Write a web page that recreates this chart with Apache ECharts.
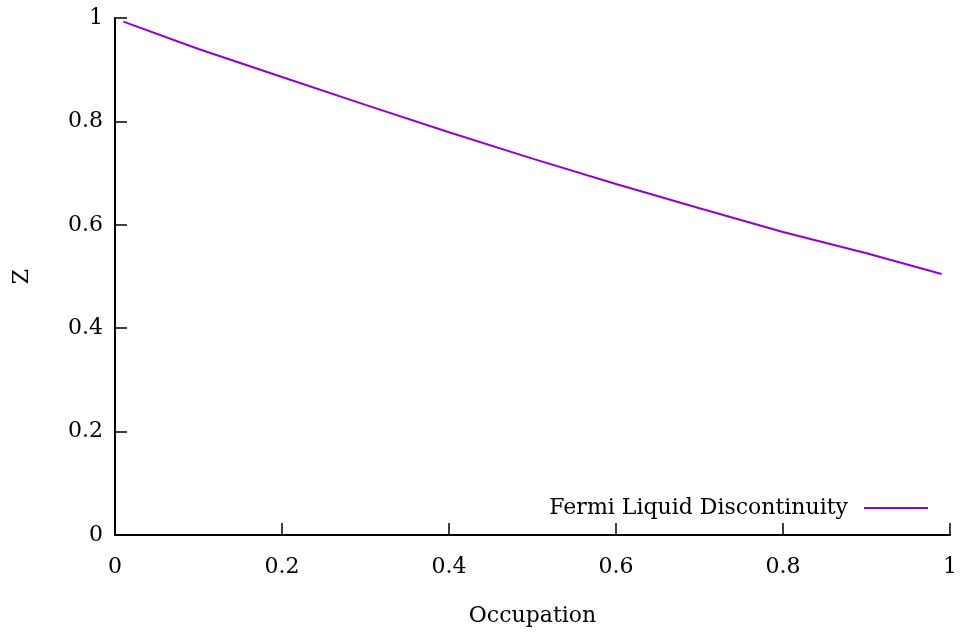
<!DOCTYPE html>
<html>
<head>
<meta charset="utf-8">
<script src="https://cdn.jsdelivr.net/npm/echarts@6/dist/echarts.min.js"></script>
<style>
  html, body { margin: 0; padding: 0; background: #fff; }
  #chart { width: 960px; height: 632px; }
</style>
</head>
<body>
<div id="chart"></div>
<script>
// Quasiparticle weight Z against occupation
const occupation = [0.01, 0.1, 0.2, 0.3, 0.4, 0.5, 0.6, 0.7, 0.8, 0.9, 0.99];
const zWeight    = [0.993, 0.940, 0.886, 0.832, 0.779, 0.728, 0.679, 0.632, 0.586, 0.545, 0.505];
const seriesName = 'Fermi Liquid Discontinuity';
const xTicks = [0, 0.2, 0.4, 0.6, 0.8, 1];
const yTicks = [0, 0.2, 0.4, 0.6, 0.8, 1];

const FONT = 'DejaVu Serif';
const FS = 22;
const points = occupation.map((x, i) => [x, zWeight[i]]);

const axisCommon = {
  type: 'value',
  min: 0,
  max: 1,
  interval: 0.2,
  splitLine: { show: false },
  axisLine: { show: true, lineStyle: { color: '#000', width: 2 } },
  axisTick: { show: true, inside: true, length: 12, lineStyle: { color: '#000', width: 1.5 } },
  nameLocation: 'middle',
  nameTextStyle: { fontFamily: FONT, fontSize: FS, color: '#000' }
};

const chart = echarts.init(document.getElementById('chart'), null, { renderer: 'canvas' });
chart.setOption({
  backgroundColor: '#fff',
  animation: false,
  grid: { left: 115, right: 9, top: 18, bottom: 96, containLabel: false },
  xAxis: Object.assign({}, axisCommon, {
    name: 'Occupation',
    nameGap: 70,
    axisLabel: {
      fontFamily: FONT, fontSize: FS, color: '#000', margin: 21,
      formatter: v => xTicks.includes(+v.toFixed(1)) ? String(+v.toFixed(1)) : ''
    }
  }),
  yAxis: Object.assign({}, axisCommon, {
    name: 'Z',
    nameGap: 82,
    nameRotate: 90,
    axisLabel: {
      fontFamily: FONT, fontSize: FS, color: '#000', margin: 12,
      formatter: v => yTicks.includes(+v.toFixed(1)) ? String(+v.toFixed(1)) : ''
    }
  }),
  legend: {
    right: 27,
    top: 492,
    align: 'right',
    icon: 'rect',
    itemWidth: 64,
    itemHeight: 2,
    textStyle: { fontFamily: FONT, fontSize: FS, color: '#000', padding: [0, 11, 0, 0] },
    data: [seriesName]
  },
  series: [{
    name: seriesName,
    type: 'line',
    data: points,
    showSymbol: false,
    symbol: 'none',
    smooth: false,
    lineStyle: { color: '#9400d3', width: 2 },
    itemStyle: { color: '#9400d3' }
  }]
});
</script>
</body>
</html>
